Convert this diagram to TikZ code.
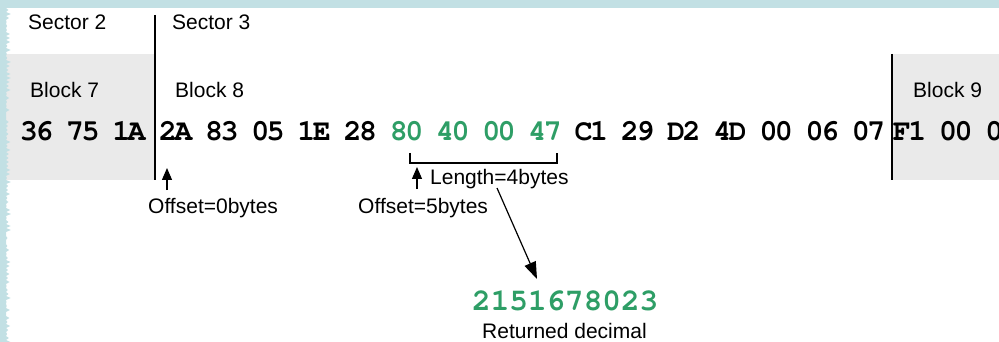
\documentclass[tikz,border=0pt]{standalone}
\usepackage{fontspec}
\setmainfont{Liberation Sans}
\newfontfamily\hexfont{texgyrecursor}[Extension=.otf, UprightFont=*-regular, BoldFont=*-bold]
\usetikzlibrary{arrows.meta}

\definecolor{frameblue}{HTML}{C2E0E4}
\definecolor{bandgrey}{HTML}{EAEAEA}
\definecolor{hexgreen}{HTML}{2E9E66}

% tightly set hex bytes: every character sits in a cell of fixed pitch
\newlength\hexpitch
\setlength\hexpitch{15.4pt}
\def\hexloop#1{\ifx#1\relax\else\makebox[\hexpitch]{#1}\expandafter\hexloop\fi}
\newcommand\hexbyte[1]{\hexloop#1\relax\hspace{\hexpitch}}

\begin{document}
\begin{tikzpicture}[x=1pt,y=-1pt,
  lbl/.style={inner sep=0pt, anchor=base west, font=\fontsize{21}{24}\selectfont},
  hex/.style={inner sep=0pt, anchor=base west, font=\hexfont\bfseries\fontsize{30}{32}\selectfont},
  result/.style={inner sep=0pt, anchor=base west, text=hexgreen, font=\hexfont\bfseries\fontsize{31}{34}\selectfont},
  divider/.style={line width=1.2pt, draw=black},
  ptr/.style={line width=1.2pt, -{Triangle[length=12pt,width=10pt]}},
  bigptr/.style={line width=1.2pt, -{Triangle[length=17pt,width=12pt]}}]

\useasboundingbox (0,0) rectangle (999,342);
\fill[white] (0,0) rectangle (999,342);

% grey bands of the neighbouring blocks
\fill[bandgrey] (0,54) rectangle (155,180);
\fill[bandgrey] (892,54) rectangle (999,180);

% frame edges
\fill[frameblue] (0,0) rectangle (999,8);
\pgfmathsetseed{7}
\fill[frameblue] (0,8) \foreach \y in {8,10,...,342} { -- ({6+5*rnd*mod(\y,4)/2},\y) } -- (0,342) -- cycle;

% sector and block boundaries
\draw[divider] (155,15) -- (155,180);
\draw[divider] (892,54) -- (892,180);

% labels
\node[lbl] (sec2) at (28,30) {Sector 2};
\node[lbl] (sec3) at (172,30) {Sector 3};
\node[lbl] (blk7) at (30,98) {Block 7};
\node[lbl] (blk8) at (175,98) {Block 8};
\node[lbl] (blk9) at (913,98) {Block 9};

% bytes
\node[hex] (bytes7) at (21,141) {\hexbyte{36}\hexbyte{75}\hexbyte{1A}};
\node[hex] (bytes8) at (160,141) {\hexbyte{2A}\hexbyte{83}\hexbyte{05}\hexbyte{1E}\hexbyte{28}{\color{hexgreen}\hexbyte{80}\hexbyte{40}\hexbyte{00}\hexbyte{47}}\hexbyte{C1}\hexbyte{29}\hexbyte{D2}\hexbyte{4D}\hexbyte{00}\hexbyte{06}\hexbyte{07}};
\node[hex] (bytes9) at (894,141) {\hexbyte{F1}\hexbyte{00}\hexbyte{00}};

% selected range
\draw[divider] (410,153) -- (410,163) -- (557,163) -- (557,153);

% offsets
\coordinate (tip0) at (167,168);
\coordinate (tail0) at (167,190);
\draw[ptr] (tail0) -- (tip0);
\node[lbl] (off0) at (148,213) {Offset=0bytes};

\coordinate (tip5) at (417,167);
\coordinate (tail5) at (417,189);
\draw[ptr] (tail5) -- (tip5);
\node[lbl] (off5) at (358,213) {Offset=5bytes};
\node[lbl] (len) at (430,185) {Length=4bytes};

% result
\node[result] (num) at (472,310) {2151678023};
\node[lbl] (ret) at (482,338) {Returned decimal};
\coordinate (tailr) at (497,188);
\coordinate (tipr) at (537,279);
\draw[bigptr] (tailr) -- (tipr);

\end{tikzpicture}
\end{document}
